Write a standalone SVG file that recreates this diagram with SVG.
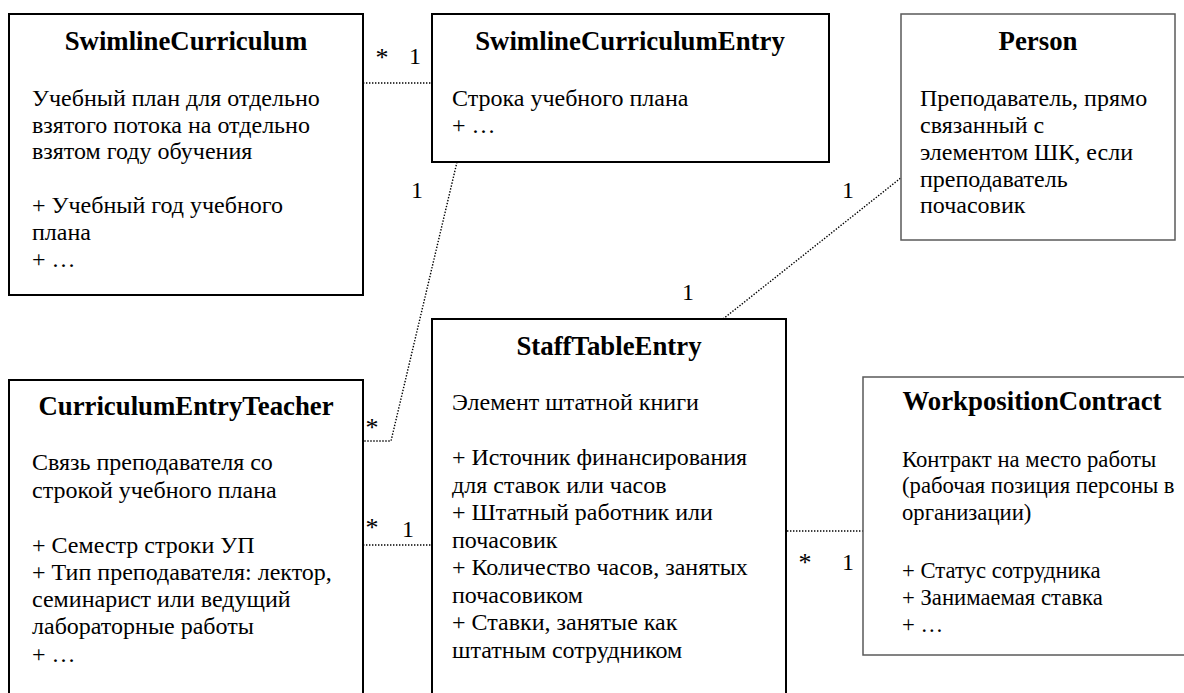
<svg xmlns="http://www.w3.org/2000/svg" width="1184" height="693" viewBox="0 0 1184 693" font-family="'Liberation Serif', 'DejaVu Serif', serif">
  <style>
    .box { fill: #ffffff; stroke: #000000; stroke-width: 2; }
    .box-light { fill: #ffffff; stroke: #5a5a5a; stroke-width: 1.5; }
    .title { font-weight: bold; font-size: 26.8px; fill: #000; text-anchor: middle; }
    .body { font-size: 24px; fill: #000; }
    .body-small { font-size: 22.7px; fill: #000; }
    .mult { font-size: 24px; fill: #000; text-anchor: middle; }
    .star { font-size: 26px; fill: #000; text-anchor: middle; }
    .link { fill: none; stroke: #000; stroke-width: 1.4; stroke-dasharray: 1.4 1.6; }
  </style>

  <rect width="1184" height="693" fill="#ffffff"/>

  <!-- associations -->
  <g id="connectors">
    <polyline class="link" points="363,83 432,83"/>
    <polyline class="link" points="457,162 391,441 363,441"/>
    <polyline class="link" points="363,545 432,545"/>
    <polyline class="link" points="723,319 902,177"/>
    <polyline class="link" points="787,531 863,531"/>

    <text class="star" x="382" y="66">*</text>
    <text class="mult" x="415" y="64">1</text>
    <text class="mult" x="417" y="198">1</text>
    <text class="mult" x="848" y="198">1</text>
    <text class="mult" x="688" y="300">1</text>
    <text class="star" x="372" y="436">*</text>
    <text class="star" x="372" y="536">*</text>
    <text class="mult" x="408" y="537">1</text>
    <text class="star" x="805" y="571">*</text>
    <text class="mult" x="848" y="570">1</text>
  </g>

  <g id="SwimlineCurriculum">
    <rect class="box" x="9" y="14" width="354" height="281"/>
    <text class="title" x="186" y="50">SwimlineCurriculum</text>
    <text class="body">
      <tspan x="32" y="106">Учебный план для отдельно</tspan>
      <tspan x="32" y="132.5">взятого потока на отдельно</tspan>
      <tspan x="32" y="159">взятом году обучения</tspan>
      <tspan x="32" y="213">+ Учебный год учебного</tspan>
      <tspan x="32" y="240">плана</tspan>
      <tspan x="32" y="267">+ …</tspan>
    </text>
  </g>

  <g id="SwimlineCurriculumEntry">
    <rect class="box" x="432" y="14" width="397" height="148"/>
    <text class="title" x="630" y="50">SwimlineCurriculumEntry</text>
    <text class="body">
      <tspan x="452" y="106">Строка учебного плана</tspan>
      <tspan x="452" y="133">+ …</tspan>
    </text>
  </g>

  <g id="Person">
    <rect class="box-light" x="901" y="14" width="274" height="226"/>
    <text class="title" x="1038" y="50">Person</text>
    <text class="body">
      <tspan x="920" y="106">Преподаватель, прямо</tspan>
      <tspan x="920" y="133">связанный с</tspan>
      <tspan x="920" y="160">элементом ШК, если</tspan>
      <tspan x="920" y="187">преподаватель</tspan>
      <tspan x="920" y="213">почасовик</tspan>
    </text>
  </g>

  <g id="CurriculumEntryTeacher">
    <rect class="box" x="9" y="380" width="354" height="340"/>
    <text class="title" x="186" y="415">CurriculumEntryTeacher</text>
    <text class="body">
      <tspan x="32" y="470">Связь преподавателя со</tspan>
      <tspan x="32" y="498">строкой учебного плана</tspan>
      <tspan x="32" y="553">+ Семестр строки УП</tspan>
      <tspan x="32" y="580">+ Тип преподавателя: лектор,</tspan>
      <tspan x="32" y="607">семинарист или ведущий</tspan>
      <tspan x="32" y="634">лабораторные работы</tspan>
      <tspan x="32" y="662">+ …</tspan>
    </text>
  </g>

  <g id="StaffTableEntry">
    <rect class="box" x="432" y="319" width="354" height="400"/>
    <text class="title" x="609" y="355">StaffTableEntry</text>
    <text class="body">
      <tspan x="452" y="410">Элемент штатной книги</tspan>
      <tspan x="452" y="465">+ Источник финансирования</tspan>
      <tspan x="452" y="493">для ставок или часов</tspan>
      <tspan x="452" y="520">+ Штатный работник или</tspan>
      <tspan x="452" y="548">почасовик</tspan>
      <tspan x="452" y="575">+ Количество часов, занятых</tspan>
      <tspan x="452" y="603">почасовиком</tspan>
      <tspan x="452" y="630">+ Ставки, занятые как</tspan>
      <tspan x="452" y="658">штатным сотрудником</tspan>
    </text>
  </g>

  <g id="WorkpositionContract">
    <rect class="box-light" x="863" y="377" width="340" height="278"/>
    <text class="title" x="1032" y="410">WorkpositionContract</text>
    <text class="body-small">
      <tspan x="902" y="467">Контракт на место работы</tspan>
      <tspan x="902" y="493">(рабочая позиция персоны в</tspan>
      <tspan x="902" y="520">организации)</tspan>
      <tspan x="902" y="578">+ Статус сотрудника</tspan>
      <tspan x="902" y="605">+ Занимаемая ставка</tspan>
      <tspan x="902" y="632">+ …</tspan>
    </text>
  </g>
</svg>
